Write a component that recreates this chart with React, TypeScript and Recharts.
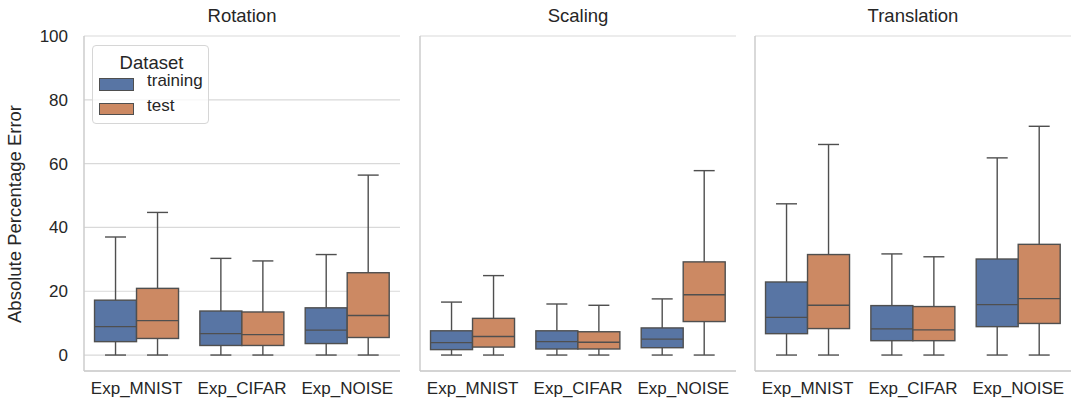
import React from 'react';
import {
  ComposedChart,
  Bar,
  XAxis,
  YAxis,
  CartesianGrid,
  Legend,
} from 'recharts';

// values: [min, q1, median, q3, max]
const categories = ['Exp_MNIST', 'Exp_CIFAR', 'Exp_NOISE'];
const facets = ['Rotation', 'Scaling', 'Translation'];
const seriesNames = ['training', 'test'];
const yTicks = [0, 20, 40, 60, 80, 100];

const rotationTraining = [
  [0, 4.2, 8.9, 17.2, 37.0],
  [0, 3.0, 6.7, 13.8, 30.3],
  [0, 3.6, 7.8, 14.8, 31.5],
];
const rotationTest = [
  [0, 5.2, 10.8, 20.9, 44.7],
  [0, 3.0, 6.4, 13.5, 29.5],
  [0, 5.5, 12.4, 25.8, 56.4],
];
const scalingTraining = [
  [0, 1.7, 3.9, 7.6, 16.6],
  [0, 1.9, 4.2, 7.6, 16.0],
  [0, 2.3, 5.0, 8.5, 17.6],
];
const scalingTest = [
  [0, 2.5, 5.8, 11.5, 24.9],
  [0, 1.9, 4.0, 7.3, 15.6],
  [0, 10.5, 18.9, 29.2, 57.8],
];
const translationTraining = [
  [0, 6.7, 11.8, 22.9, 47.4],
  [0, 4.5, 8.2, 15.5, 31.7],
  [0, 8.9, 15.8, 30.1, 61.8],
];
const translationTest = [
  [0, 8.3, 15.6, 31.5, 66.0],
  [0, 4.5, 7.9, 15.2, 30.8],
  [0, 9.9, 17.7, 34.7, 71.7],
];

const facetSeries = [
  [rotationTraining, rotationTest],
  [scalingTraining, scalingTest],
  [translationTraining, translationTest],
];

const BLUE = '#5875a4';
const ORANGE = '#cc8963';
const LINE = '#4f4f4f';
const GRID = '#d9d9d9';
const SPINE = '#cccccc';
const TEXT = '#262626';
const FONT = "'Liberation Sans', Arial, sans-serif";

const buildRows = (training: number[][], test: number[][]) =>
  categories.map((cat, i) => ({
    cat,
    trainingRange: [training[i][0], training[i][4]],
    testRange: [test[i][0], test[i][4]],
    training: training[i],
    test: test[i],
  }));

// draws whiskers + box; the bar spans min..max so the other stats are placed inside it
const makeBoxShape = (series: 'training' | 'test') => (props: any) => {
  const { x, y, width, height, fill, payload } = props;
  const [mn, q1, med, q3, mx] = payload[series] as number[];
  const toPx = (v: number) => y + (height * (mx - v)) / (mx - mn || 1);
  const cx = x + width / 2;
  const capW = width / 2;
  return (
    <g>
      <line x1={cx} x2={cx} y1={toPx(mx)} y2={toPx(q3)} stroke={LINE} strokeWidth={1.4} />
      <line x1={cx} x2={cx} y1={toPx(q1)} y2={toPx(mn)} stroke={LINE} strokeWidth={1.4} />
      <line x1={cx - capW / 2} x2={cx + capW / 2} y1={toPx(mx)} y2={toPx(mx)} stroke={LINE} strokeWidth={1.4} />
      <line x1={cx - capW / 2} x2={cx + capW / 2} y1={toPx(mn)} y2={toPx(mn)} stroke={LINE} strokeWidth={1.4} />
      <rect
        x={x}
        y={toPx(q3)}
        width={width}
        height={toPx(q1) - toPx(q3)}
        fill={fill}
        stroke={LINE}
        strokeWidth={1.4}
      />
      <line x1={x} x2={x + width} y1={toPx(med)} y2={toPx(med)} stroke={LINE} strokeWidth={1.4} />
    </g>
  );
};

const trainingShape = makeBoxShape('training');
const testShape = makeBoxShape('test');

const renderYLabel = (props: any) => {
  const { viewBox } = props;
  const lx = viewBox.x + 21;
  const ly = 214;
  return (
    <text
      x={lx}
      y={ly}
      transform={`rotate(-90, ${lx}, ${ly})`}
      textAnchor="middle"
      fontSize={18.5}
      fill={TEXT}
    >
      Absolute Percentage Error
    </text>
  );
};

const renderLegend = (props: any) => {
  const items = [...(props.payload || [])].sort(
    (a: any, b: any) => seriesNames.indexOf(a.value) - seriesNames.indexOf(b.value)
  );
  return (
    <div
      style={{
        width: 117,
        height: 79,
        border: '1px solid #d6d6d6',
        borderRadius: 4,
        background: 'rgba(255,255,255,0.8)',
        boxSizing: 'border-box',
        position: 'relative',
        color: TEXT,
        fontFamily: FONT,
      }}
    >
      <div style={{ position: 'absolute', left: 0, width: 117, top: 1, textAlign: 'center', fontSize: 18.5, lineHeight: '32px' }}>
        Dataset
      </div>
      {items.map((p: any, i: number) => (
        <div key={p.value} style={{ position: 'absolute', left: 6, top: 32 + i * 24.5, height: 20 }}>
          <div
            style={{
              position: 'absolute',
              left: 0,
              top: 0,
              width: 35,
              height: 12.5,
              background: p.color,
              border: `1px solid ${LINE}`,
              boxSizing: 'border-box',
            }}
          />
          <div style={{ position: 'absolute', left: 48, top: -7, fontSize: 17, lineHeight: '20px', whiteSpace: 'nowrap' }}>
            {p.value}
          </div>
        </div>
      ))}
    </div>
  );
};

const Panel = ({ idx, left, width, axisW }: { idx: number; left: number; width: number; axisW: number }) => {
  const [training, test] = facetSeries[idx];
  const rows = buildRows(training, test);
  const first = idx === 0;
  return (
    <div style={{ position: 'absolute', left, top: 0 }}>
      <div
        style={{
          position: 'absolute',
          left: axisW,
          width: width - axisW,
          top: 5,
          textAlign: 'center',
          fontSize: 18.5,
          lineHeight: '22px',
          color: TEXT,
        }}
      >
        {facets[idx]}
      </div>
      <ComposedChart
        width={width}
        height={403}
        data={rows}
        margin={{ top: 36, right: 0, bottom: 0, left: 0 }}
        barCategoryGap="10%"
        barGap={0}
      >
        <CartesianGrid vertical={false} stroke={GRID} strokeWidth={1.2} />
        <XAxis
          dataKey="cat"
          height={32}
          interval={0}
          tickLine={false}
          tickMargin={5}
          axisLine={{ stroke: SPINE, strokeWidth: 1.5 }}
          tick={{ fontSize: 17, fill: TEXT }}
        />
        <YAxis
          width={axisW}
          domain={[-5, 100]}
          ticks={yTicks}
          interval={0}
          tickLine={false}
          tickMargin={10}
          axisLine={{ stroke: SPINE, strokeWidth: 1.5 }}
          tick={first ? { fontSize: 17, fill: TEXT } : false}
          label={first ? { content: renderYLabel } : undefined}
        />
        {first && (
          <Legend
            content={renderLegend}
            layout="horizontal"
            verticalAlign="middle"
            align="center"
            wrapperStyle={{ position: 'absolute', left: 92, top: 45, width: 117, height: 79 }}
          />
        )}
        <Bar
          dataKey="trainingRange"
          name="training"
          fill={BLUE}
          shape={trainingShape}
          isAnimationActive={false}
        />
        <Bar
          dataKey="testRange"
          name="test"
          fill={ORANGE}
          shape={testShape}
          isAnimationActive={false}
        />
      </ComposedChart>
    </div>
  );
};

export default function App() {
  return (
    <div
      style={{
        position: 'absolute',
        left: 0,
        top: 0,
        width: 1071,
        height: 403,
        background: '#fff',
        fontFamily: FONT,
        overflow: 'hidden',
      }}
    >
      <Panel idx={0} left={0} width={400} axisW={84} />
      <Panel idx={1} left={400} width={336} axisW={20} />
      <Panel idx={2} left={735} width={336} axisW={20} />
    </div>
  );
}
